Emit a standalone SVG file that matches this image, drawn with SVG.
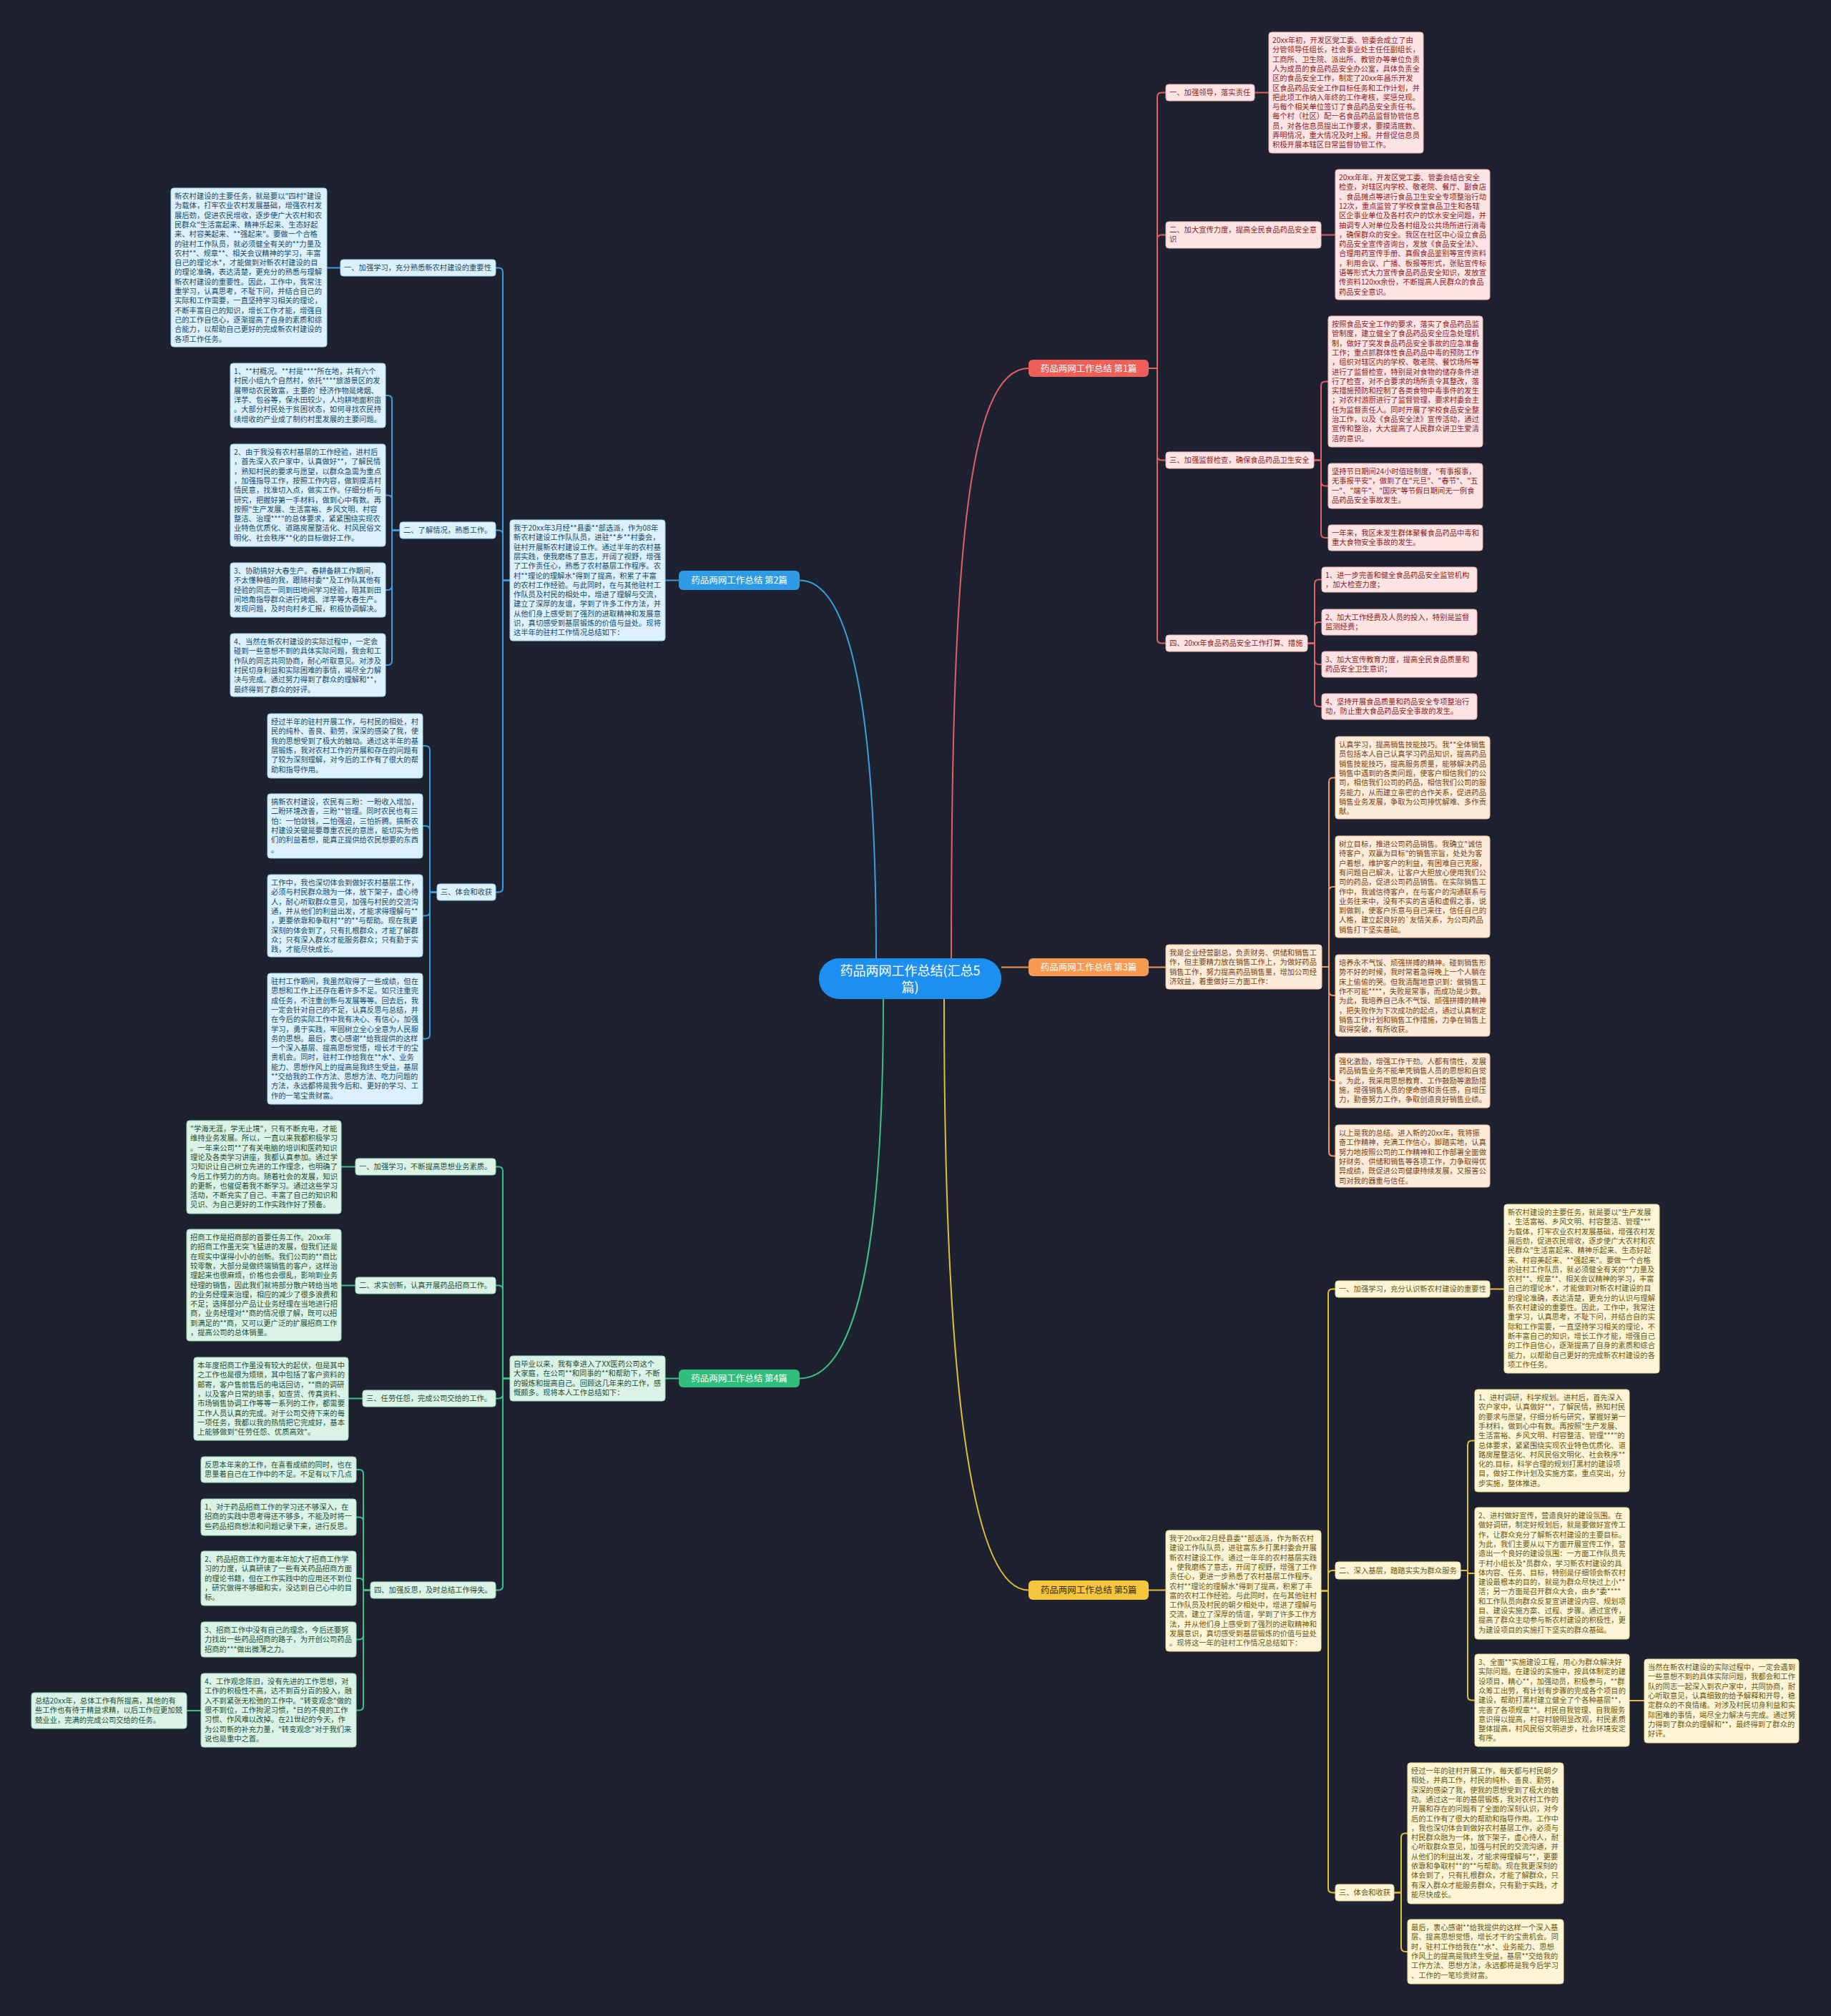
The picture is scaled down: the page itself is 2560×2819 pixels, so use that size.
<svg xmlns="http://www.w3.org/2000/svg" width="2560" height="2819" viewBox="0 0 2560 2819">
<defs>
<style>
text{font-family:"Noto Sans CJK SC","Noto Sans",sans-serif;font-size:10.3px}
.ln{fill:none;stroke-width:2}
.lr{stroke:#e2605f}.lb{stroke:#3a9fdc}.lo{stroke:#ee9a55}.lg{stroke:#3fbf86}.ly{stroke:#e4bd3a}
.br{fill:#fde4e4;stroke:#f3b3b3}.tr{fill:#8f1d1d}
.bb{fill:#dcf1fb;stroke:#9fd3f0}.tb{fill:#174a6b}
.bo{fill:#fdebd9;stroke:#f5c79d}.to{fill:#7a4317}
.bg2{fill:#dbf3e6;stroke:#9edcbc}.tg{fill:#1d4f37}
.by{fill:#fdf5d6;stroke:#eedb91}.ty{fill:#6b5711}
.nt{font-size:12.5px;text-anchor:middle}
.ct{font-size:18px;text-anchor:middle;fill:#ffffff}
</style>
</defs>
<rect width="2560" height="2819" fill="#1e2230"/>
<g id="connectors">
<path class="ln lr" stroke-width="3" d="M1330,1340 C1330,800 1350,515 1438,515"/>
<path class="ln lb" stroke-width="3" d="M1225,1340 C1225,950 1180,811.5 1118,811.5"/>
<path class="ln lo" stroke-width="3" d="M1400,1352.5 H1438"/>
<path class="ln lg" stroke-width="3" d="M1235,1397 C1235,1780 1190,1927.5 1118,1927.5"/>
<path class="ln ly" stroke-width="3" d="M1320,1397 C1320,1950 1360,2223.5 1438,2223.5"/>
<path class="ln lr" d="M1606,515 H1618 V135.5 Q1618,129.5 1624,129.5 H1630"/>
<path class="ln lr" d="M1606,515 H1618 V334.5 Q1618,328.5 1624,328.5 H1630"/>
<path class="ln lr" d="M1606,515 H1618 V637.5 Q1618,643.5 1624,643.5 H1630"/>
<path class="ln lr" d="M1606,515 H1618 V893.5 Q1618,899.5 1624,899.5 H1630"/>
<path class="ln lr" d="M1754,129.5 H1774"/>
<path class="ln lr" d="M1847,328.5 H1867"/>
<path class="ln lr" d="M1837,643.5 H1847 V539.5 Q1847,533.5 1853,533.5 H1857"/>
<path class="ln lr" d="M1837,643.5 H1847 V673.5 Q1847,679.5 1853,679.5 H1857"/>
<path class="ln lr" d="M1837,643.5 H1847 V746 Q1847,752 1853,752 H1857"/>
<path class="ln lr" d="M1828,899.5 H1838 V816.5 Q1838,810.5 1844,810.5 H1848"/>
<path class="ln lr" d="M1828,899.5 H1838 V876 Q1838,870 1844,870 H1848"/>
<path class="ln lr" d="M1828,899.5 H1838 V923 Q1838,929 1844,929 H1848"/>
<path class="ln lr" d="M1828,899.5 H1838 V982 Q1838,988 1844,988 H1848"/>
<path class="ln lo" d="M1606,1352.5 H1630"/>
<path class="ln lo" d="M1848,1352 H1858 V1093.5 Q1858,1087.5 1864,1087.5 H1867"/>
<path class="ln lo" d="M1848,1352 H1858 V1246 Q1858,1240 1864,1240 H1867"/>
<path class="ln lo" d="M1848,1352 H1858 V1386 Q1858,1392 1864,1392 H1867"/>
<path class="ln lo" d="M1848,1352 H1858 V1505 Q1858,1511 1864,1511 H1867"/>
<path class="ln lo" d="M1848,1352 H1858 V1610.5 Q1858,1616.5 1864,1616.5 H1867"/>
<path class="ln ly" d="M1606,2223.5 H1630"/>
<path class="ln ly" d="M1847,2224.5 H1857 V1808.5 Q1857,1802.5 1863,1802.5 H1867"/>
<path class="ln ly" d="M1847,2224.5 H1857 V2202 Q1857,2196 1863,2196 H1867"/>
<path class="ln ly" d="M1847,2224.5 H1857 V2640.5 Q1857,2646.5 1863,2646.5 H1867"/>
<path class="ln ly" d="M2083,1802.5 H2103"/>
<path class="ln ly" d="M2042,2196 H2052 V2020.5 Q2052,2014.5 2058,2014.5 H2062"/>
<path class="ln ly" d="M2042,2196 H2052 V2200 H2062"/>
<path class="ln ly" d="M2042,2196 H2052 V2371.5 Q2052,2377.5 2058,2377.5 H2062"/>
<path class="ln ly" d="M2278,2378 H2299"/>
<path class="ln ly" d="M1949,2646.5 H1959 V2569.5 Q1959,2563.5 1965,2563.5 H1968"/>
<path class="ln ly" d="M1949,2646.5 H1959 V2723 Q1959,2729 1965,2729 H1968"/>
<path class="ln lb" d="M949,811.5 H930"/>
<path class="ln lb" d="M713,811.5 H703 V380.5 Q703,374.5 697,374.5 H693"/>
<path class="ln lb" d="M713,811.5 H703 V747.5 Q703,741.5 697,741.5 H693"/>
<path class="ln lb" d="M713,811.5 H703 V1241.5 Q703,1247.5 697,1247.5 H693"/>
<path class="ln lb" d="M476,374.5 H457"/>
<path class="ln lb" d="M559,741.5 H548 V559 Q548,553 542,553 H539"/>
<path class="ln lb" d="M559,741.5 H548 V698.5 Q548,692.5 542,692.5 H539"/>
<path class="ln lb" d="M559,741.5 H548 V819 Q548,825 542,825 H539"/>
<path class="ln lb" d="M559,741.5 H548 V924 Q548,930 542,930 H539"/>
<path class="ln lb" d="M611,1247.5 H601 V1049 Q601,1043 595,1043 H591"/>
<path class="ln lb" d="M611,1247.5 H601 V1161 Q601,1155 595,1155 H591"/>
<path class="ln lb" d="M611,1247.5 H601 V1274.5 Q601,1280.5 595,1280.5 H591"/>
<path class="ln lb" d="M611,1247.5 H601 V1446.5 Q601,1452.5 595,1452.5 H591"/>
<path class="ln lg" d="M949,1927.5 H930"/>
<path class="ln lg" d="M713,1927.5 H703 V1637.5 Q703,1631.5 697,1631.5 H693"/>
<path class="ln lg" d="M713,1927.5 H703 V1803.5 Q703,1797.5 697,1797.5 H693"/>
<path class="ln lg" d="M713,1927.5 H703 V1949.5 Q703,1955.5 697,1955.5 H693"/>
<path class="ln lg" d="M713,1927.5 H703 V2217.5 Q703,2223.5 697,2223.5 H693"/>
<path class="ln lg" d="M497,1631.5 H477"/>
<path class="ln lg" d="M497,1797.5 H477"/>
<path class="ln lg" d="M507,1955.5 H487"/>
<path class="ln lg" d="M518,2223.5 H508 V2061 Q508,2055 502,2055 H498"/>
<path class="ln lg" d="M518,2223.5 H508 V2127.5 Q508,2121.5 502,2121.5 H498"/>
<path class="ln lg" d="M518,2223.5 H508 V2213 Q508,2207 502,2207 H498"/>
<path class="ln lg" d="M518,2223.5 H508 V2286.5 Q508,2292.5 502,2292.5 H498"/>
<path class="ln lg" d="M518,2223.5 H508 V2385.5 Q508,2391.5 502,2391.5 H498"/>
<path class="ln lg" d="M281,2392 H261"/>
</g>

<g id="center">
<rect x="1145" y="1340" width="255" height="57" rx="28" fill="#1d8ff0"/>
<text class="ct" x="1272.5" y="1364">药品两网工作总结(汇总5<tspan x="1272.5" dy="23.4">篇)</tspan></text>
</g>

<g id="n1"><rect x="1438" y="503" width="168" height="24" rx="6" fill="#ef5f5a"/><text class="nt" x="1522" y="519.5" fill="#ffffff">药品两网工作总结 第1篇</text></g>
<g id="n2"><rect x="949" y="798" width="169" height="27" rx="6" fill="#2e9be6"/><text class="nt" x="1033.5" y="816" fill="#ffffff">药品两网工作总结 第2篇</text></g>
<g id="n3"><rect x="1438" y="1340" width="168" height="25" rx="6" fill="#f59a50"/><text class="nt" x="1522" y="1357" fill="#ffffff">药品两网工作总结 第3篇</text></g>
<g id="n4"><rect x="949" y="1915" width="169" height="25" rx="6" fill="#2fbf7a"/><text class="nt" x="1033.5" y="1932" fill="#ffffff">药品两网工作总结 第4篇</text></g>
<g id="n5"><rect x="1438" y="2210" width="168" height="27" rx="6" fill="#f5c63d"/><text class="nt" x="1522" y="2228" fill="#3a2e00">药品两网工作总结 第5篇</text></g>

<g id="l1a"><rect class="br" x="1630" y="118" width="124" height="23" rx="4"/><text class="tr" x="1635" y="133">一、加强领导，落实责任</text></g>
<g id="b1a"><rect class="br" x="1774" y="45" width="216" height="169" rx="4"/><text class="tr" x="1779" y="60">20xx年初，开发区党工委、管委会成立了由<tspan x="1779" dy="13.3">分管领导任组长，社会事业处主任任副组长，</tspan><tspan x="1779" dy="13.3">工商所、卫生院、派出所、教管办等单位负责</tspan><tspan x="1779" dy="13.3">人为成员的食品药品安全办公室，具体负责全</tspan><tspan x="1779" dy="13.3">区的食品安全工作，制定了20xx年昌乐开发</tspan><tspan x="1779" dy="13.3">区食品药品安全工作目标任务和工作计划，并</tspan><tspan x="1779" dy="13.3">把此项工作纳入年终的工作考核，奖惩兑现。</tspan><tspan x="1779" dy="13.3">与每个相关单位签订了食品药品安全责任书。</tspan><tspan x="1779" dy="13.3">每个村（社区）配一名食品药品监督协管信息</tspan><tspan x="1779" dy="13.3">员，对各信息员提出工作要求，要摸清底数、</tspan><tspan x="1779" dy="13.3">弄明情况，重大情况及时上报。并督促信息员</tspan><tspan x="1779" dy="13.3">积极开展本辖区日常监督协管工作。</tspan></text></g>
<g id="l1b"><rect class="br" x="1630" y="310" width="217" height="37" rx="4"/><text class="tr" x="1635" y="325">二、加大宣传力度，提高全民食品药品安全意<tspan x="1635" dy="13.3">识</tspan></text></g>
<g id="b1b"><rect class="br" x="1867" y="237" width="216" height="182" rx="4"/><text class="tr" x="1872" y="252">20xx年年，开发区党工委、管委会结合安全<tspan x="1872" dy="13.3">检查，对辖区内学校、敬老院、餐厅、副食店</tspan><tspan x="1872" dy="13.3">、食品摊点等进行食品卫生安全专项整治行动</tspan><tspan x="1872" dy="13.3">12次，重点监管了学校食堂食品卫生和各辖</tspan><tspan x="1872" dy="13.3">区企事业单位及各村农户的饮水安全问题，并</tspan><tspan x="1872" dy="13.3">抽调专人对单位及各村组及公共场所进行消毒</tspan><tspan x="1872" dy="13.3">，确保群众的安全。我区在社区中心设立食品</tspan><tspan x="1872" dy="13.3">药品安全宣传咨询台，发放《食品安全法》、</tspan><tspan x="1872" dy="13.3">合理用药宣传手册、真假食品鉴别等宣传资料</tspan><tspan x="1872" dy="13.3">，利用会议、广播、板报等形式，张贴宣传标</tspan><tspan x="1872" dy="13.3">语等形式大力宣传食品药品安全知识，发放宣</tspan><tspan x="1872" dy="13.3">传资料120xx余份，不断提高人民群众的食品</tspan><tspan x="1872" dy="13.3">药品安全意识。</tspan></text></g>
<g id="l1c"><rect class="br" x="1630" y="632" width="207" height="23" rx="4"/><text class="tr" x="1635" y="647">三、加强监督检查，确保食品药品卫生安全</text></g>
<g id="b1c"><rect class="br" x="1857" y="442" width="216" height="183" rx="4"/><text class="tr" x="1862" y="457">按照食品安全工作的要求，落实了食品药品监<tspan x="1862" dy="13.3">管制度，建立健全了食品药品安全应急处理机</tspan><tspan x="1862" dy="13.3">制，做好了突发食品药品安全事故的应急准备</tspan><tspan x="1862" dy="13.3">工作；重点抓群体性食品药品中毒的预防工作</tspan><tspan x="1862" dy="13.3">，组织对辖区内的学校、敬老院、餐饮场所等</tspan><tspan x="1862" dy="13.3">进行了监督检查，特别是对食物的储存条件进</tspan><tspan x="1862" dy="13.3">行了检查，对不合要求的场所责令其整改，落</tspan><tspan x="1862" dy="13.3">实措施预防和控制了各类食物中毒事件的发生</tspan><tspan x="1862" dy="13.3">；对农村游厨进行了监督管理，要求村委会主</tspan><tspan x="1862" dy="13.3">任为监督责任人。同时开展了学校食品安全整</tspan><tspan x="1862" dy="13.3">治工作，以及《食品安全法》宣传活动，通过</tspan><tspan x="1862" dy="13.3">宣传和整治，大大提高了人民群众讲卫生爱清</tspan><tspan x="1862" dy="13.3">洁的意识。</tspan></text></g>
<g id="b1d"><rect class="br" x="1857" y="648" width="216" height="63" rx="4"/><text class="tr" x="1862" y="663">坚持节日期间24小时值班制度，"有事报事，<tspan x="1862" dy="13.3">无事报平安"，做到了在"元旦"、"春节"、"五</tspan><tspan x="1862" dy="13.3">一"、"端午"、"国庆"等节假日期间无一例食</tspan><tspan x="1862" dy="13.3">品药品安全事故发生。</tspan></text></g>
<g id="b1e"><rect class="br" x="1857" y="734" width="216" height="36" rx="4"/><text class="tr" x="1862" y="749">一年来，我区未发生群体聚餐食品药品中毒和<tspan x="1862" dy="13.3">重大食物安全事故的发生。</tspan></text></g>
<g id="l1d"><rect class="br" x="1630" y="888" width="198" height="23" rx="4"/><text class="tr" x="1635" y="903">四、20xx年食品药品安全工作打算、措施</text></g>
<g id="b1f"><rect class="br" x="1848" y="793" width="217" height="35" rx="4"/><text class="tr" x="1853" y="808">1、进一步完善和健全食品药品安全监管机构<tspan x="1853" dy="13.3">，加大检查力度；</tspan></text></g>
<g id="b1g"><rect class="br" x="1848" y="852" width="217" height="36" rx="4"/><text class="tr" x="1853" y="867">2、加大工作经费及人员的投入，特别是监督<tspan x="1853" dy="13.3">监测经费；</tspan></text></g>
<g id="b1h"><rect class="br" x="1848" y="911" width="217" height="36" rx="4"/><text class="tr" x="1853" y="926">3、加大宣传教育力度，提高全民食品质量和<tspan x="1853" dy="13.3">药品安全卫生意识；</tspan></text></g>
<g id="b1i"><rect class="br" x="1848" y="970" width="217" height="36" rx="4"/><text class="tr" x="1853" y="985">4、坚持开展食品质量和药品安全专项整治行<tspan x="1853" dy="13.3">动，防止重大食品药品安全事故的发生。</tspan></text></g>

<g id="b3t"><rect class="bo" x="1630" y="1321" width="218" height="62" rx="4"/><text class="to" x="1635" y="1336">我是企业经营副总，负责财务、供储和销售工<tspan x="1635" dy="13.3">作，但主要精力放在销售工作上，为做好药品</tspan><tspan x="1635" dy="13.3">销售工作，努力提高药品销售量，增加公司经</tspan><tspan x="1635" dy="13.3">济效益，着重做好三方面工作：</tspan></text></g>
<g id="b3a"><rect class="bo" x="1867" y="1030" width="216" height="115" rx="4"/><text class="to" x="1872" y="1045">认真学习，提高销售技能技巧。我**全体销售<tspan x="1872" dy="13.3">员包括本人自己认真学习药品知识，提高药品</tspan><tspan x="1872" dy="13.3">销售技能技巧，提高服务质量，能够解决药品</tspan><tspan x="1872" dy="13.3">销售中遇到的各类问题，使客户相信我们的公</tspan><tspan x="1872" dy="13.3">司，相信我们公司的药品，相信我们公司的服</tspan><tspan x="1872" dy="13.3">务能力，从而建立亲密的合作关系，促进药品</tspan><tspan x="1872" dy="13.3">销售业务发展，争取为公司排忧解难、多作贡</tspan><tspan x="1872" dy="13.3">献。</tspan></text></g>
<g id="b3b"><rect class="bo" x="1867" y="1169" width="216" height="142" rx="4"/><text class="to" x="1872" y="1184">树立目标，推进公司药品销售。我确立"诚信<tspan x="1872" dy="13.3">待客户，双赢为目标"的销售宗旨，处处为客</tspan><tspan x="1872" dy="13.3">户着想，维护客户的利益，有困难自己克服，</tspan><tspan x="1872" dy="13.3">有问题自己解决，让客户大胆放心使用我们公</tspan><tspan x="1872" dy="13.3">司的药品，促进公司药品销售。在实际销售工</tspan><tspan x="1872" dy="13.3">作中，我诚信待客户，在与客户的沟通联系与</tspan><tspan x="1872" dy="13.3">业务往来中，没有不实的言语和虚假之事，说</tspan><tspan x="1872" dy="13.3">到做到，使客户乐意与自己来往，信任自己的</tspan><tspan x="1872" dy="13.3">人格，建立起良好的`友情关系，为公司药品</tspan><tspan x="1872" dy="13.3">销售打下坚实基础。</tspan></text></g>
<g id="b3c"><rect class="bo" x="1867" y="1335" width="216" height="114" rx="4"/><text class="to" x="1872" y="1350">培养永不气馁、顽强拼搏的精神。碰到销售形<tspan x="1872" dy="13.3">势不好的时候，我时常着急得晚上一个人躺在</tspan><tspan x="1872" dy="13.3">床上偷偷的哭。但我清醒地意识到：做销售工</tspan><tspan x="1872" dy="13.3">作不可能****，失败是常事，而成功是少数。</tspan><tspan x="1872" dy="13.3">为此，我培养自己永不气馁、顽强拼搏的精神</tspan><tspan x="1872" dy="13.3">，把失败作为下次成功的起点，通过认真制定</tspan><tspan x="1872" dy="13.3">销售工作计划和销售工作措施，力争在销售上</tspan><tspan x="1872" dy="13.3">取得突破，有所收获。</tspan></text></g>
<g id="b3d"><rect class="bo" x="1867" y="1473" width="216" height="76" rx="4"/><text class="to" x="1872" y="1488">强化激励，增强工作干劲。人都有惰性，发展<tspan x="1872" dy="13.3">药品销售业务不能单凭销售人员的思想和自觉</tspan><tspan x="1872" dy="13.3">。为此，我采用思想教育、工作鼓励等激励措</tspan><tspan x="1872" dy="13.3">施，增强销售人员的使命感和责任感，自增压</tspan><tspan x="1872" dy="13.3">力，勤奋努力工作，争取创造良好销售业绩。</tspan></text></g>
<g id="b3e"><rect class="bo" x="1867" y="1573" width="216" height="87" rx="4"/><text class="to" x="1872" y="1588">以上是我的总结。进入新的20xx年，我将振<tspan x="1872" dy="13.3">奋工作精神，充满工作信心，脚踏实地，认真</tspan><tspan x="1872" dy="13.3">努力地按照公司的工作精神和工作部署全面做</tspan><tspan x="1872" dy="13.3">好财务、供储和销售等各项工作，力争取得优</tspan><tspan x="1872" dy="13.3">异成绩，既促进公司健康持续发展，又报答公</tspan><tspan x="1872" dy="13.3">司对我的器重与信任。</tspan></text></g>

<g id="b5t"><rect class="by" x="1630" y="2140" width="217" height="169" rx="4"/><text class="ty" x="1635" y="2155">我于20xx年2月经县委**部选派，作为新农村<tspan x="1635" dy="13.3">建设工作队队员，进驻富东乡打黑村委会开展</tspan><tspan x="1635" dy="13.3">新农村建设工作。通过一年年的农村基层实践</tspan><tspan x="1635" dy="13.3">，使我磨练了意志，开阔了视野，增强了工作</tspan><tspan x="1635" dy="13.3">责任心，更进一步熟悉了农村基层工作程序。</tspan><tspan x="1635" dy="13.3">农村**理论的理解水*得到了提高，积累了丰</tspan><tspan x="1635" dy="13.3">富的农村工作经验。与此同时，在与其他驻村</tspan><tspan x="1635" dy="13.3">工作队员及村民的朝夕相处中，增进了理解与</tspan><tspan x="1635" dy="13.3">交流，建立了深厚的情谊，学到了许多工作方</tspan><tspan x="1635" dy="13.3">法，并从他们身上感受到了强烈的进取精神和</tspan><tspan x="1635" dy="13.3">发展意识，真切感受到基层锻炼的价值与益处</tspan><tspan x="1635" dy="13.3">。现将这一年的驻村工作情况总结如下：</tspan></text></g>
<g id="l5a"><rect class="by" x="1867" y="1791" width="216" height="23" rx="4"/><text class="ty" x="1872" y="1806">一、加强学习，充分认识新农村建设的重要性</text></g>
<g id="b5a"><rect class="by" x="2103" y="1684" width="217" height="236" rx="4"/><text class="ty" x="2108" y="1699">新农村建设的主要任务，就是要以"生产发展<tspan x="2108" dy="13.3">、生活富裕、乡风文明、村容整洁、管理**"</tspan><tspan x="2108" dy="13.3">为载体，打牢农业农村发展基础，增强农村发</tspan><tspan x="2108" dy="13.3">展后劲，促进农民增收，逐步使广大农村和农</tspan><tspan x="2108" dy="13.3">民群众"生活富起来、精神乐起来、生态好起</tspan><tspan x="2108" dy="13.3">来、村容美起来、**强起来"。要做一个合格</tspan><tspan x="2108" dy="13.3">的驻村工作队员，就必须健全有关的**力量及</tspan><tspan x="2108" dy="13.3">农村**、规章**、相关会议精神的学习，丰富</tspan><tspan x="2108" dy="13.3">自己的理论水*，才能做到对新农村建设的目</tspan><tspan x="2108" dy="13.3">的理论准确，表达清楚，更充分的认识与理解</tspan><tspan x="2108" dy="13.3">新农村建设的重要性。因此，工作中，我常注</tspan><tspan x="2108" dy="13.3">重学习，认真思考，不耻下问，并结合自的实</tspan><tspan x="2108" dy="13.3">际和工作需要，一直坚持学习相关的理论，不</tspan><tspan x="2108" dy="13.3">断丰富自己的知识，增长工作才能，增强自己</tspan><tspan x="2108" dy="13.3">的工作自信心，逐渐提高了自身的素质和综合</tspan><tspan x="2108" dy="13.3">能力，以帮助自己更好的完成新农村建设的各</tspan><tspan x="2108" dy="13.3">项工作任务。</tspan></text></g>
<g id="l5b"><rect class="by" x="1867" y="2184" width="175" height="24" rx="4"/><text class="ty" x="1872" y="2200">二、深入基层，踏踏实实为群众服务</text></g>
<g id="b5b"><rect class="by" x="2062" y="1943" width="216" height="143" rx="4"/><text class="ty" x="2067" y="1958">1、进村调研，科学规划。进村后，首先深入<tspan x="2067" dy="13.3">农户家中，认真做好**，了解民情，熟知村民</tspan><tspan x="2067" dy="13.3">的要求与愿望，仔细分析与研究，掌握好第一</tspan><tspan x="2067" dy="13.3">手材料，做到心中有数。再按照"生产发展、</tspan><tspan x="2067" dy="13.3">生活富裕、乡风文明、村容整洁、管理***"的</tspan><tspan x="2067" dy="13.3">总体要求，紧紧围绕实现农业特色优质化、道</tspan><tspan x="2067" dy="13.3">路房屋整洁化、村风民俗文明化、社会秩序**</tspan><tspan x="2067" dy="13.3">化的.目标，科学合理的规划打黑村的建设项</tspan><tspan x="2067" dy="13.3">目，做好工作计划及实施方案，重点突出，分</tspan><tspan x="2067" dy="13.3">步实施，整体推进。</tspan></text></g>
<g id="b5c"><rect class="by" x="2062" y="2108" width="216" height="184" rx="4"/><text class="ty" x="2067" y="2123">2、进村做好宣传，营造良好的建设氛围。在<tspan x="2067" dy="13.3">做好调研，制定好规划后，就是要做好宣传工</tspan><tspan x="2067" dy="13.3">作，让群众充分了解新农村建设的主要目标。</tspan><tspan x="2067" dy="13.3">为此，我们主要从以下方面开展宣传工作，营</tspan><tspan x="2067" dy="13.3">造出一个良好的建设氛围：一方面工作队员先</tspan><tspan x="2067" dy="13.3">于村小组长及*员群众，学习新农村建设的具</tspan><tspan x="2067" dy="13.3">体内容、任务、目标，特别是仔细领会新农村</tspan><tspan x="2067" dy="13.3">建设最根本的目的，就是为群众尽快过上小**</tspan><tspan x="2067" dy="13.3">活；另一方面是召开群众大会，由乡*委****</tspan><tspan x="2067" dy="13.3">和工作队员向群众反复宣讲建设内容、规划项</tspan><tspan x="2067" dy="13.3">目、建设实施方案、过程、步骤。通过宣传，</tspan><tspan x="2067" dy="13.3">提高了群众主动参与新农村建设的积极性，更</tspan><tspan x="2067" dy="13.3">为建设项目的实施打下坚实的群众基础。</tspan></text></g>
<g id="b5d"><rect class="by" x="2062" y="2313" width="216" height="129" rx="4"/><text class="ty" x="2067" y="2328">3、全面**实施建设工程，用心为群众解决好<tspan x="2067" dy="13.3">实际问题。在建设的实施中，按具体制定的建</tspan><tspan x="2067" dy="13.3">设项目，精心**，加强动员，积极参与，**群</tspan><tspan x="2067" dy="13.3">众筹工出劳，有计划有步骤的完成各个项目的</tspan><tspan x="2067" dy="13.3">建设，帮助打黑村建立健全了个各种基层**，</tspan><tspan x="2067" dy="13.3">完善了各项规章**。村民自我管理、自我服务</tspan><tspan x="2067" dy="13.3">意识得以提高，村容村貌明显改观，村民素质</tspan><tspan x="2067" dy="13.3">整体提高，村风民俗文明进步，社会环境安定</tspan><tspan x="2067" dy="13.3">有序。</tspan></text></g>
<g id="b5e"><rect class="by" x="2299" y="2320" width="216" height="117" rx="4"/><text class="ty" x="2304" y="2335">当然在新农村建设的实际过程中，一定会遇到<tspan x="2304" dy="13.3">一些意想不到的具体实际问题，我都会和工作</tspan><tspan x="2304" dy="13.3">队的同志一起深入到农户家中，共同协商，耐</tspan><tspan x="2304" dy="13.3">心听取意见，认真细致的给予解释和开导，稳</tspan><tspan x="2304" dy="13.3">定群众的不良情绪。对涉及村民切身利益和实</tspan><tspan x="2304" dy="13.3">际困难的事情，竭尽全力解决与完成。通过努</tspan><tspan x="2304" dy="13.3">力得到了群众的理解和**，最终得到了群众的</tspan><tspan x="2304" dy="13.3">好评。</tspan></text></g>
<g id="l5c"><rect class="by" x="1867" y="2635" width="82" height="23" rx="4"/><text class="ty" x="1872" y="2650">三、体会和收获</text></g>
<g id="b5f"><rect class="by" x="1968" y="2465" width="218" height="197" rx="4"/><text class="ty" x="1973" y="2480">经过一年的驻村开展工作，每天都与村民朝夕<tspan x="1973" dy="13.3">相处，并肩工作，村民的纯朴、善良、勤劳，</tspan><tspan x="1973" dy="13.3">深深的感染了我，使我的思想受到了极大的触</tspan><tspan x="1973" dy="13.3">动。通过这一年的基层锻炼，我对农村工作的</tspan><tspan x="1973" dy="13.3">开展和存在的问题有了全面的深刻认识，对今</tspan><tspan x="1973" dy="13.3">后的工作有了很大的帮助和指导作用。工作中</tspan><tspan x="1973" dy="13.3">，我也深切体会到做好农村基层工作，必须与</tspan><tspan x="1973" dy="13.3">村民群众融为一体，放下架子，虚心待人，耐</tspan><tspan x="1973" dy="13.3">心听取群众意见，加强与村民的交流沟通，并</tspan><tspan x="1973" dy="13.3">从他们的利益出发，才能求得理解与**，更要</tspan><tspan x="1973" dy="13.3">依靠和争取村**的**与帮助。现在我更深刻的</tspan><tspan x="1973" dy="13.3">体会到了，只有扎根群众，才能了解群众，只</tspan><tspan x="1973" dy="13.3">有深入群众才能服务群众，只有勤于实践，才</tspan><tspan x="1973" dy="13.3">能尽快成长。</tspan></text></g>
<g id="b5g"><rect class="by" x="1968" y="2684" width="218" height="90" rx="4"/><text class="ty" x="1973" y="2699">最后，衷心感谢**给我提供的这样一个深入基<tspan x="1973" dy="13.3">层、提高思想觉悟，增长才干的宝贵机会。同</tspan><tspan x="1973" dy="13.3">时，驻村工作给我在**水*、业务能力、思想</tspan><tspan x="1973" dy="13.3">作风上的提高是我终生受益，基层**交给我的</tspan><tspan x="1973" dy="13.3">工作方法、思想方法，永远都将是我今后学习</tspan><tspan x="1973" dy="13.3">、工作的一笔珍贵财富。</tspan></text></g>

<g id="b2t"><rect class="bb" x="713" y="727" width="217" height="169" rx="4"/><text class="tb" x="718" y="742">我于20xx年3月经**县委**部选派，作为08年<tspan x="718" dy="13.3">新农村建设工作队队员，进驻**乡**村委会，</tspan><tspan x="718" dy="13.3">驻村开展新农村建设工作。通过半年的农村基</tspan><tspan x="718" dy="13.3">层实践，使我磨练了意志，开阔了视野，增强</tspan><tspan x="718" dy="13.3">了工作责任心，熟悉了农村基层工作程序。农</tspan><tspan x="718" dy="13.3">村**理论的理解水*得到了提高，积累了丰富</tspan><tspan x="718" dy="13.3">的农村工作经验。与此同时，在与其他驻村工</tspan><tspan x="718" dy="13.3">作队员及村民的相处中，增进了理解与交流，</tspan><tspan x="718" dy="13.3">建立了深厚的友谊，学到了许多工作方法，并</tspan><tspan x="718" dy="13.3">从他们身上感受到了强烈的进取精神和发展意</tspan><tspan x="718" dy="13.3">识，真切感受到基层锻炼的价值与益处。现将</tspan><tspan x="718" dy="13.3">这半年的驻村工作情况总结如下：</tspan></text></g>
<g id="l2a"><rect class="bb" x="476" y="363" width="217" height="23" rx="4"/><text class="tb" x="481" y="378">一、加强学习，充分熟悉新农村建设的重要性</text></g>
<g id="b2a"><rect class="bb" x="239" y="263" width="218" height="222" rx="4"/><text class="tb" x="244" y="278">新农村建设的主要任务，就是要以"四村"建设<tspan x="244" dy="13.3">为载体，打牢农业农村发展基础，增强农村发</tspan><tspan x="244" dy="13.3">展后劲，促进农民增收，逐步使广大农村和农</tspan><tspan x="244" dy="13.3">民群众"生活富起来、精神乐起来、生态好起</tspan><tspan x="244" dy="13.3">来、村容美起来、**强起来"。要做一个合格</tspan><tspan x="244" dy="13.3">的驻村工作队员，就必须健全有关的**力量及</tspan><tspan x="244" dy="13.3">农村**、规章**、相关会议精神的学习，丰富</tspan><tspan x="244" dy="13.3">自己的理论水*，才能做到对新农村建设的目</tspan><tspan x="244" dy="13.3">的理论准确，表达清楚，更充分的熟悉与理解</tspan><tspan x="244" dy="13.3">新农村建设的重要性。因此，工作中，我常注</tspan><tspan x="244" dy="13.3">重学习，认真思考，不耻下问，并结合自己的</tspan><tspan x="244" dy="13.3">实际和工作需要，一直坚持学习相关的理论，</tspan><tspan x="244" dy="13.3">不断丰富自己的知识，增长工作才能，增强自</tspan><tspan x="244" dy="13.3">己的工作自信心，逐渐提高了自身的素质和综</tspan><tspan x="244" dy="13.3">合能力，以帮助自己更好的完成新农村建设的</tspan><tspan x="244" dy="13.3">各项工作任务。</tspan></text></g>
<g id="l2b"><rect class="bb" x="559" y="730" width="134" height="23" rx="4"/><text class="tb" x="564" y="745">二、了解情况，熟悉工作。</text></g>
<g id="b2b"><rect class="bb" x="322" y="508" width="217" height="90" rx="4"/><text class="tb" x="327" y="523">1、**村概况。**村是****所在地，共有六个<tspan x="327" dy="13.3">村民小组九个自然村，依托****旅游景区的发</tspan><tspan x="327" dy="13.3">展带动农民致富，主要的`经济作物是烤烟、</tspan><tspan x="327" dy="13.3">洋芋、包谷等，保水田较少，人均耕地面积亩</tspan><tspan x="327" dy="13.3">。大部分村民处于贫困状态，如何寻找农民持</tspan><tspan x="327" dy="13.3">续增收的产业成了制约村里发展的主要问题。</tspan></text></g>
<g id="b2c"><rect class="bb" x="322" y="621" width="217" height="143" rx="4"/><text class="tb" x="327" y="636">2、由于我没有农村基层的工作经验，进村后<tspan x="327" dy="13.3">，首先深入农户家中，认真做好**，了解民情</tspan><tspan x="327" dy="13.3">，熟知村民的要求与愿望，以群众急需为重点</tspan><tspan x="327" dy="13.3">，加强指导工作，按照工作内容，做到摸清村</tspan><tspan x="327" dy="13.3">情民意，找准切入点，做实工作。仔细分析与</tspan><tspan x="327" dy="13.3">研究，把握好第一手材料，做到心中有数。再</tspan><tspan x="327" dy="13.3">按照"生产发展、生活富裕、乡风文明、村容</tspan><tspan x="327" dy="13.3">整洁、治理***"的总体要求，紧紧围绕实现农</tspan><tspan x="327" dy="13.3">业特色优质化、道路房屋整洁化、村风民俗文</tspan><tspan x="327" dy="13.3">明化、社会秩序**化的目标做好工作。</tspan></text></g>
<g id="b2d"><rect class="bb" x="322" y="787" width="217" height="76" rx="4"/><text class="tb" x="327" y="802">3、协助搞好大春生产。春耕备耕工作期间，<tspan x="327" dy="13.3">不太懂种植的我，跟随村委**及工作队其他有</tspan><tspan x="327" dy="13.3">经验的同志一同到田地间学习经验，陪其到田</tspan><tspan x="327" dy="13.3">间地角指导群众进行烤烟、洋芋等大春生产。</tspan><tspan x="327" dy="13.3">发现问题，及时向村乡汇报，积极协调解决。</tspan></text></g>
<g id="b2e"><rect class="bb" x="322" y="886" width="217" height="88" rx="4"/><text class="tb" x="327" y="901">4、当然在新农村建设的实际过程中，一定会<tspan x="327" dy="13.3">碰到一些意想不到的具体实际问题，我会和工</tspan><tspan x="327" dy="13.3">作队的同志共同协商，耐心听取意见。对涉及</tspan><tspan x="327" dy="13.3">村民切身利益和实际困难的事情，竭尽全力解</tspan><tspan x="327" dy="13.3">决与完成。通过努力得到了群众的理解和**，</tspan><tspan x="327" dy="13.3">最终得到了群众的好评。</tspan></text></g>
<g id="l2c"><rect class="bb" x="611" y="1236" width="82" height="23" rx="4"/><text class="tb" x="616" y="1251">三、体会和收获</text></g>
<g id="b2f"><rect class="bb" x="374" y="998" width="217" height="90" rx="4"/><text class="tb" x="379" y="1013">经过半年的驻村开展工作，与村民的相处，村<tspan x="379" dy="13.3">民的纯朴、善良、勤劳，深深的感染了我，使</tspan><tspan x="379" dy="13.3">我的思想受到了极大的触动。通过这半年的基</tspan><tspan x="379" dy="13.3">层锻炼，我对农村工作的开展和存在的问题有</tspan><tspan x="379" dy="13.3">了较为深刻理解，对今后的工作有了很大的帮</tspan><tspan x="379" dy="13.3">助和指导作用。</tspan></text></g>
<g id="b2g"><rect class="bb" x="374" y="1110" width="217" height="90" rx="4"/><text class="tb" x="379" y="1125">搞新农村建设，农民有三盼：一盼收入增加，<tspan x="379" dy="13.3">二盼环境改善，三盼**管理。同时农民也有三</tspan><tspan x="379" dy="13.3">怕：一怕敛钱，二怕强迫，三怕折腾。搞新农</tspan><tspan x="379" dy="13.3">村建设关键是要尊重农民的意愿，能切实为他</tspan><tspan x="379" dy="13.3">们的利益着想，能真正提供给农民想要的东西</tspan><tspan x="379" dy="13.3">。</tspan></text></g>
<g id="b2h"><rect class="bb" x="374" y="1223" width="217" height="115" rx="4"/><text class="tb" x="379" y="1238">工作中，我也深切体会到做好农村基层工作，<tspan x="379" dy="13.3">必须与村民群众融为一体，放下架子，虚心待</tspan><tspan x="379" dy="13.3">人，耐心听取群众意见，加强与村民的交流沟</tspan><tspan x="379" dy="13.3">通，并从他们的利益出发，才能求得理解与**</tspan><tspan x="379" dy="13.3">，更要依靠和争取村**的**与帮助。现在我更</tspan><tspan x="379" dy="13.3">深刻的体会到了，只有扎根群众，才能了解群</tspan><tspan x="379" dy="13.3">众；只有深入群众才能服务群众；只有勤于实</tspan><tspan x="379" dy="13.3">践，才能尽快成长。</tspan></text></g>
<g id="b2i"><rect class="bb" x="374" y="1361" width="217" height="183" rx="4"/><text class="tb" x="379" y="1376">驻村工作期间，我虽然取得了一些成绩，但在<tspan x="379" dy="13.3">思想和工作上还存在着许多不足。如只注重完</tspan><tspan x="379" dy="13.3">成任务，不注重创新与发展等等。回去后，我</tspan><tspan x="379" dy="13.3">一定会针对自己的不足，认真反思与总结，并</tspan><tspan x="379" dy="13.3">在今后的实际工作中我有决心、有信心，加强</tspan><tspan x="379" dy="13.3">学习，勇于实践，牢固树立全心全意为人民服</tspan><tspan x="379" dy="13.3">务的思想。最后，衷心感谢**给我提供的这样</tspan><tspan x="379" dy="13.3">一个深入基层、提高思想觉悟，增长才干的宝</tspan><tspan x="379" dy="13.3">贵机会。同时，驻村工作给我在**水*、业务</tspan><tspan x="379" dy="13.3">能力、思想作风上的提高是我终生受益，基层</tspan><tspan x="379" dy="13.3">**交给我的工作方法、思想方法、吃力问题的</tspan><tspan x="379" dy="13.3">方法，永远都将是我今后和、更好的学习、工</tspan><tspan x="379" dy="13.3">作的一笔宝贵财富。</tspan></text></g>

<g id="b4t"><rect class="bg2" x="713" y="1896" width="217" height="63" rx="4"/><text class="tg" x="718" y="1911">自毕业以来，我有幸进入了XX医药公司这个<tspan x="718" dy="13.3">大家庭，在公司**和同事的**和帮助下，不断</tspan><tspan x="718" dy="13.3">的锻炼和提高自己。回顾这几年来的工作，感</tspan><tspan x="718" dy="13.3">慨颇多。现将本人工作总结如下：</tspan></text></g>
<g id="l4a"><rect class="bg2" x="497" y="1620" width="196" height="23" rx="4"/><text class="tg" x="502" y="1635">一、加强学习，不断提高思想业务素质。</text></g>
<g id="b4a"><rect class="bg2" x="261" y="1567" width="216" height="130" rx="4"/><text class="tg" x="266" y="1582">"学海无涯，学无止境"，只有不断充电，才能<tspan x="266" dy="13.3">维持业务发展。所以，一直以来我都积极学习</tspan><tspan x="266" dy="13.3">。一年来公司**了有关电脑的培训和医药知识</tspan><tspan x="266" dy="13.3">理论及各类学习讲座，我都认真参加。通过学</tspan><tspan x="266" dy="13.3">习知识让自己树立先进的工作理念，也明确了</tspan><tspan x="266" dy="13.3">今后工作努力的方向。随着社会的发展，知识</tspan><tspan x="266" dy="13.3">的更新，也催促着我不断学习。通过这些学习</tspan><tspan x="266" dy="13.3">活动，不断充实了自己、丰富了自己的知识和</tspan><tspan x="266" dy="13.3">见识、为自己更好的工作实践作好了预备。</tspan></text></g>
<g id="l4b"><rect class="bg2" x="497" y="1786" width="196" height="23" rx="4"/><text class="tg" x="502" y="1801">二、求实创新，认真开展药品招商工作。</text></g>
<g id="b4b"><rect class="bg2" x="261" y="1719" width="216" height="156" rx="4"/><text class="tg" x="266" y="1734">招商工作是招商部的首要任务工作。20xx年<tspan x="266" dy="13.3">的招商工作虽无突飞猛进的发展，但我们还是</tspan><tspan x="266" dy="13.3">在现实中谋得小小的创新。我们公司的**商比</tspan><tspan x="266" dy="13.3">较零散，大部分是做终端销售的客户，这样治</tspan><tspan x="266" dy="13.3">理起来也很麻烦，价格也会很乱，影响到业务</tspan><tspan x="266" dy="13.3">经理的销售，因此我们就将部分散户转给当地</tspan><tspan x="266" dy="13.3">的业务经理来治理，相应的减少了很多浪费和</tspan><tspan x="266" dy="13.3">不足；选择部分产品让业务经理在当地进行招</tspan><tspan x="266" dy="13.3">商，业务经理对**商的情况很了解，既可以招</tspan><tspan x="266" dy="13.3">到满足的**商，又可以更广泛的扩展招商工作</tspan><tspan x="266" dy="13.3">，提高公司的总体销量。</tspan></text></g>
<g id="l4c"><rect class="bg2" x="507" y="1944" width="186" height="23" rx="4"/><text class="tg" x="512" y="1959">三、任劳任怨，完成公司交给的工作。</text></g>
<g id="b4c"><rect class="bg2" x="271" y="1898" width="216" height="116" rx="4"/><text class="tg" x="276" y="1913">本年度招商工作虽没有较大的起伏，但是其中<tspan x="276" dy="13.3">之工作也是很为烦琐，其中包括了客户资料的</tspan><tspan x="276" dy="13.3">邮寄，客户售前售后的电话回访，**商的调研</tspan><tspan x="276" dy="13.3">，以及客户日常的琐事，如查货、传真资料、</tspan><tspan x="276" dy="13.3">市场销售协调工作等等一系列的工作，都需要</tspan><tspan x="276" dy="13.3">工作人员认真的完成。对于公司交待下来的每</tspan><tspan x="276" dy="13.3">一项任务，我都以我的热情把它完成好，基本</tspan><tspan x="276" dy="13.3">上能够做到"任劳任怨、优质高效"。</tspan></text></g>
<g id="l4d"><rect class="bg2" x="518" y="2212" width="175" height="23" rx="4"/><text class="tg" x="523" y="2227">四、加强反思，及时总结工作得失。</text></g>
<g id="b4d"><rect class="bg2" x="281" y="2037" width="217" height="36" rx="4"/><text class="tg" x="286" y="2052">反思本年来的工作，在喜看成绩的同时，也在<tspan x="286" dy="13.3">思量着自己在工作中的不足。不足有以下几点</tspan></text></g>
<g id="b4e"><rect class="bg2" x="281" y="2096" width="217" height="51" rx="4"/><text class="tg" x="286" y="2111">1、对于药品招商工作的学习还不够深入，在<tspan x="286" dy="13.3">招商的实践中思考得还不够多，不能及时将一</tspan><tspan x="286" dy="13.3">些药品招商想法和问题记录下来，进行反思。</tspan></text></g>
<g id="b4f"><rect class="bg2" x="281" y="2169" width="217" height="76" rx="4"/><text class="tg" x="286" y="2184">2、药品招商工作方面本年加大了招商工作学<tspan x="286" dy="13.3">习的力度，认真研读了一些有关药品招商方面</tspan><tspan x="286" dy="13.3">的理论书籍，但在工作实践中的应用还不到位</tspan><tspan x="286" dy="13.3">，研究做得不够细和实，没达到自己心中的目</tspan><tspan x="286" dy="13.3">标。</tspan></text></g>
<g id="b4g"><rect class="bg2" x="281" y="2268" width="217" height="49" rx="4"/><text class="tg" x="286" y="2283">3、招商工作中没有自己的理念，今后还要努<tspan x="286" dy="13.3">力找出一些药品招商的路子，为开创公司药品</tspan><tspan x="286" dy="13.3">招商的***做出微薄之力。</tspan></text></g>
<g id="b4h"><rect class="bg2" x="281" y="2340" width="217" height="103" rx="4"/><text class="tg" x="286" y="2355">4、工作观念陈旧，没有先进的工作思想，对<tspan x="286" dy="13.3">工作的积极性不高，达不到百分百的投入，融</tspan><tspan x="286" dy="13.3">入不到紧张无松弛的工作中。"转变观念"做的</tspan><tspan x="286" dy="13.3">很不到位，工作拘泥习惯，*日的不良的工作</tspan><tspan x="286" dy="13.3">习惯、作风难以改掉。在21世纪的今天，作</tspan><tspan x="286" dy="13.3">为公司新的补充力量，"转变观念"对于我们来</tspan><tspan x="286" dy="13.3">说也是重中之首。</tspan></text></g>
<g id="b4i"><rect class="bg2" x="44" y="2367" width="217" height="50" rx="4"/><text class="tg" x="49" y="2382">总结20xx年，总体工作有所提高，其他的有<tspan x="49" dy="13.3">些工作也有待于精益求精，以后工作应更加兢</tspan><tspan x="49" dy="13.3">兢业业，完满的完成公司交给的任务。</tspan></text></g>
</svg>
